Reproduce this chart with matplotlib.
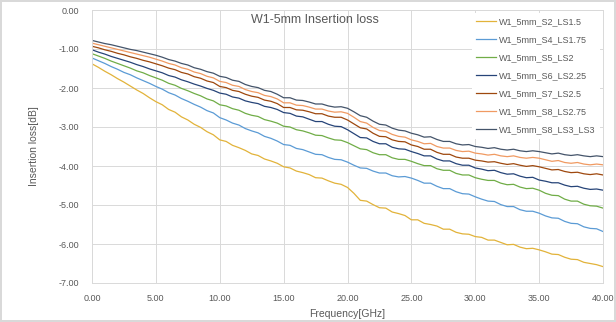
import matplotlib
matplotlib.use("Agg")
import matplotlib.pyplot as plt

plt.rcParams['font.family'] = ['Liberation Sans', 'DejaVu Sans']

freq = [0.0, 0.5, 1.0, 1.5, 2.0, 2.5, 3.0, 3.5, 4.0, 4.5, 5.0,
        5.5, 6.0, 6.5, 7.0, 7.5, 8.0, 8.5, 9.0, 9.5, 10.0,
        10.5, 11.0, 11.5, 12.0, 12.5, 13.0, 13.5, 14.0, 14.5, 15.0,
        15.5, 16.0, 16.5, 17.0, 17.5, 18.0, 18.5, 19.0, 19.5, 20.0,
        20.5, 21.0, 21.5, 22.0, 22.5, 23.0, 23.5, 24.0, 24.5, 25.0,
        25.5, 26.0, 26.5, 27.0, 27.5, 28.0, 28.5, 29.0, 29.5, 30.0,
        30.5, 31.0, 31.5, 32.0, 32.5, 33.0, 33.5, 34.0, 34.5, 35.0,
        35.5, 36.0, 36.5, 37.0, 37.5, 38.0, 38.5, 39.0, 39.5, 40.0]

s2_ls15 = [-1.38, -1.47, -1.57, -1.66, -1.76, -1.85, -1.95, -2.05, -2.14, -2.25, -2.35,
           -2.43, -2.55, -2.62, -2.74, -2.82, -2.93, -3.01, -3.12, -3.20, -3.33,
           -3.37, -3.47, -3.53, -3.60, -3.69, -3.73, -3.82, -3.87, -3.93, -4.02,
           -4.05, -4.13, -4.17, -4.22, -4.30, -4.31, -4.38, -4.44, -4.47, -4.55,
           -4.70, -4.88, -4.90, -4.99, -5.07, -5.08, -5.18, -5.22, -5.27, -5.38,
           -5.38, -5.47, -5.50, -5.54, -5.62, -5.62, -5.70, -5.74, -5.75, -5.81,
           -5.83, -5.90, -5.90, -5.96, -6.02, -6.01, -6.08, -6.12, -6.11, -6.15,
           -6.20, -6.26, -6.27, -6.34, -6.39, -6.40, -6.47, -6.50, -6.53, -6.58]

s4_ls175 = [-1.23, -1.30, -1.37, -1.45, -1.52, -1.60, -1.66, -1.74, -1.81, -1.88, -1.96,
            -2.03, -2.12, -2.18, -2.27, -2.34, -2.42, -2.49, -2.58, -2.64, -2.76,
            -2.82, -2.90, -2.95, -3.04, -3.10, -3.15, -3.24, -3.29, -3.36, -3.45,
            -3.47, -3.55, -3.58, -3.64, -3.70, -3.71, -3.78, -3.83, -3.84, -3.90,
            -3.98, -4.05, -4.06, -4.13, -4.18, -4.18, -4.25, -4.28, -4.27, -4.31,
            -4.37, -4.44, -4.44, -4.52, -4.58, -4.58, -4.66, -4.71, -4.72, -4.79,
            -4.85, -4.90, -4.91, -4.99, -5.04, -5.04, -5.12, -5.16, -5.16, -5.21,
            -5.28, -5.33, -5.34, -5.42, -5.47, -5.48, -5.56, -5.60, -5.61, -5.68]

s5_ls2 = [-1.12, -1.18, -1.24, -1.31, -1.37, -1.43, -1.49, -1.56, -1.61, -1.68, -1.74,
          -1.80, -1.88, -1.93, -2.01, -2.07, -2.14, -2.20, -2.28, -2.33, -2.43,
          -2.46, -2.53, -2.57, -2.65, -2.70, -2.73, -2.81, -2.85, -2.90, -2.98,
          -3.00, -3.07, -3.10, -3.15, -3.21, -3.22, -3.28, -3.33, -3.34, -3.40,
          -3.48, -3.56, -3.58, -3.66, -3.71, -3.71, -3.79, -3.83, -3.83, -3.88,
          -3.94, -3.99, -3.99, -4.07, -4.11, -4.11, -4.19, -4.23, -4.23, -4.30,
          -4.34, -4.37, -4.37, -4.44, -4.48, -4.47, -4.54, -4.58, -4.57, -4.62,
          -4.70, -4.75, -4.76, -4.85, -4.90, -4.90, -4.98, -5.02, -5.03, -5.08]

s6_ls225 = [-1.02, -1.08, -1.13, -1.19, -1.24, -1.29, -1.34, -1.40, -1.45, -1.51, -1.56,
            -1.61, -1.68, -1.72, -1.79, -1.84, -1.90, -1.95, -2.01, -2.06, -2.13,
            -2.16, -2.23, -2.26, -2.33, -2.37, -2.40, -2.47, -2.50, -2.55, -2.63,
            -2.65, -2.72, -2.74, -2.80, -2.86, -2.86, -2.93, -2.98, -2.99, -3.07,
            -3.17, -3.27, -3.28, -3.37, -3.43, -3.43, -3.52, -3.56, -3.57, -3.63,
            -3.68, -3.74, -3.74, -3.82, -3.87, -3.87, -3.94, -3.98, -3.98, -4.05,
            -4.08, -4.12, -4.11, -4.17, -4.21, -4.20, -4.26, -4.30, -4.29, -4.36,
            -4.39, -4.43, -4.43, -4.49, -4.53, -4.52, -4.57, -4.60, -4.59, -4.62]

s7_ls25 = [-0.93, -0.97, -1.02, -1.06, -1.11, -1.15, -1.20, -1.24, -1.29, -1.33, -1.38,
           -1.43, -1.49, -1.53, -1.60, -1.64, -1.71, -1.75, -1.82, -1.86, -1.96,
           -1.99, -2.06, -2.09, -2.16, -2.21, -2.24, -2.31, -2.34, -2.40, -2.50,
           -2.50, -2.56, -2.57, -2.61, -2.66, -2.66, -2.72, -2.75, -2.75, -2.82,
           -2.92, -3.02, -3.05, -3.16, -3.24, -3.25, -3.33, -3.37, -3.38, -3.46,
           -3.50, -3.57, -3.57, -3.65, -3.70, -3.70, -3.77, -3.80, -3.80, -3.85,
           -3.87, -3.90, -3.89, -3.93, -3.96, -3.94, -3.98, -4.01, -3.99, -4.02,
           -4.06, -4.10, -4.09, -4.14, -4.17, -4.16, -4.20, -4.22, -4.20, -4.23]

s8_ls275 = [-0.85, -0.89, -0.93, -0.97, -1.01, -1.05, -1.09, -1.13, -1.17, -1.21, -1.26,
            -1.31, -1.37, -1.41, -1.48, -1.52, -1.59, -1.63, -1.70, -1.74, -1.83,
            -1.86, -1.93, -1.96, -2.04, -2.09, -2.12, -2.19, -2.22, -2.28, -2.38,
            -2.38, -2.44, -2.45, -2.49, -2.54, -2.54, -2.59, -2.62, -2.61, -2.65,
            -2.75, -2.86, -2.90, -3.01, -3.09, -3.11, -3.19, -3.24, -3.26, -3.33,
            -3.37, -3.43, -3.42, -3.50, -3.54, -3.54, -3.60, -3.63, -3.62, -3.67,
            -3.69, -3.72, -3.70, -3.74, -3.76, -3.74, -3.78, -3.80, -3.78, -3.80,
            -3.84, -3.88, -3.86, -3.91, -3.93, -3.91, -3.95, -3.97, -3.95, -3.97]

s8_ls3 = [-0.78, -0.82, -0.86, -0.89, -0.93, -0.97, -1.01, -1.04, -1.08, -1.12, -1.16,
          -1.21, -1.27, -1.31, -1.37, -1.41, -1.48, -1.52, -1.58, -1.62, -1.70,
          -1.73, -1.80, -1.83, -1.91, -1.96, -1.99, -2.06, -2.09, -2.16, -2.25,
          -2.25, -2.31, -2.32, -2.36, -2.41, -2.41, -2.46, -2.49, -2.48, -2.52,
          -2.61, -2.71, -2.75, -2.85, -2.93, -2.95, -3.03, -3.08, -3.10, -3.16,
          -3.20, -3.26, -3.25, -3.32, -3.37, -3.37, -3.43, -3.46, -3.45, -3.50,
          -3.52, -3.55, -3.53, -3.57, -3.59, -3.57, -3.61, -3.63, -3.61, -3.63,
          -3.66, -3.69, -3.67, -3.71, -3.73, -3.71, -3.74, -3.76, -3.74, -3.76]

labels = ["W1_5mm_S2_LS1.5", "W1_5mm_S4_LS1.75", "W1_5mm_S5_LS2", "W1_5mm_S6_LS2.25",
          "W1_5mm_S7_LS2.5", "W1_5mm_S8_LS2.75", "W1_5mm_S8_LS3_LS3"]
series = [s2_ls15, s4_ls175, s5_ls2, s6_ls225, s7_ls25, s8_ls275, s8_ls3]
colors = ["#E2B33A", "#5B9BD5", "#70AD47", "#264478", "#9E480E", "#F09A62", "#44546A"]

xticks = [0, 5, 10, 15, 20, 25, 30, 35, 40]
yticks = [0, -1, -2, -3, -4, -5, -6, -7]

txt = "#595959"
fig = plt.figure(figsize=(6.16, 3.22), dpi=100)
fig.patch.set_edgecolor("#D9D9D9")
fig.patch.set_linewidth(1.5)
ax = fig.add_axes([92/616, 1-283/322, (603-92)/616, (283-10)/322])

for y, lab, c in zip(series, labels, colors):
    ax.plot(freq, y, color=c, lw=0.9, label=lab)

ax.set_xlim(0, 40)
ax.set_ylim(-7, 0)
ax.set_xticks(xticks)
ax.set_yticks(yticks)
ax.set_xticklabels([f"{v:.2f}" for v in xticks])
ax.set_yticklabels([f"{v:.2f}" for v in yticks])
ax.grid(True, color="#D9D9D9", lw=0.7)
ax.set_axisbelow(True)
for s in ax.spines.values():
    s.set_color("#D9D9D9")
    s.set_linewidth(0.7)
ax.tick_params(axis="y", length=0, labelsize=6.5, colors=txt, pad=9)
ax.tick_params(axis="x", length=0, labelsize=6.5, colors=txt, pad=8)

ax.set_xlabel("Frequency[GHz]", fontsize=7.5, color=txt, labelpad=4)
ax.set_ylabel("Insertion loss[dB]", fontsize=7.5, color=txt, labelpad=14)
ax.text(0.436, 0.985, "W1-5mm Insertion loss", transform=ax.transAxes, ha="center",
        va="top", fontsize=9, color=txt)

leg = ax.legend(loc="upper right", bbox_to_anchor=(1.0, 1.0), fontsize=6.5, frameon=True,
                handlelength=2.2, handletextpad=0.35, labelspacing=1.0, borderpad=0.5,
                borderaxespad=0.3, labelcolor=txt)
leg.get_frame().set_edgecolor("none")
leg.get_frame().set_facecolor("white")
leg.get_frame().set_alpha(1.0)

fig.savefig("out.png", dpi=100)
